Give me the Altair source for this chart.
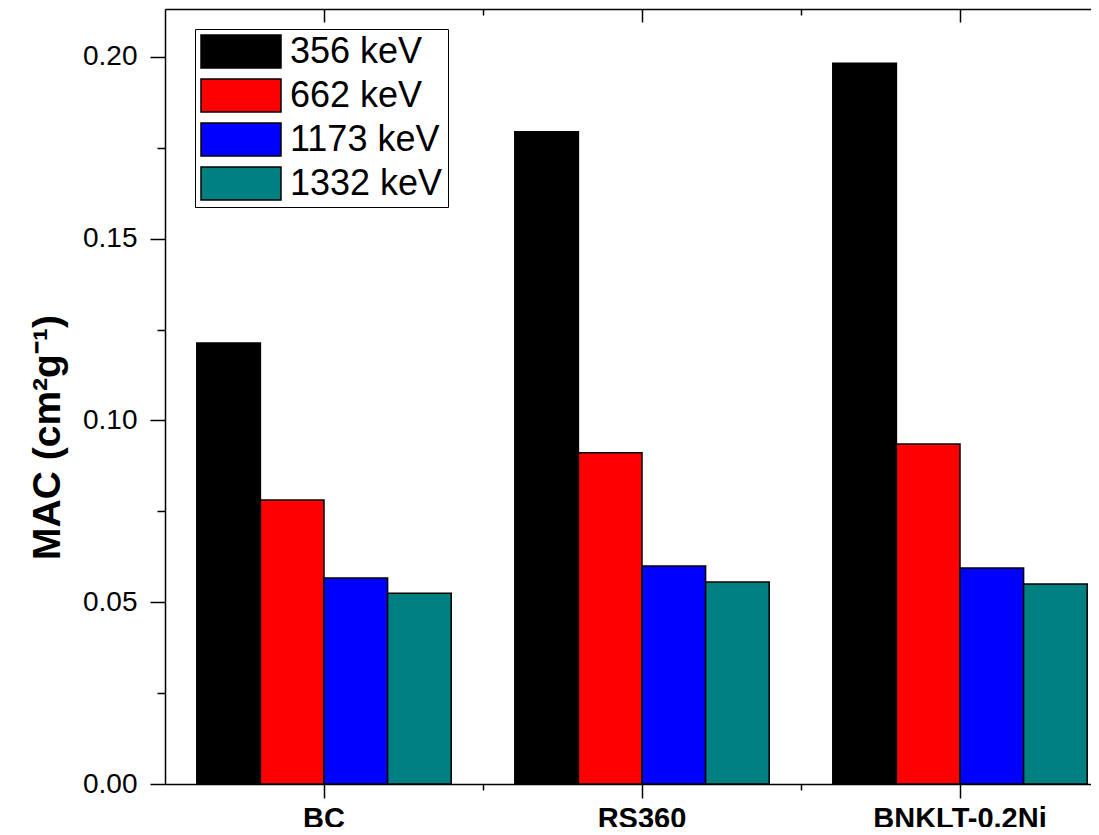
import altair as alt
import pandas as pd

materials = ["BC", "RS360", "BNKLT-0.2Ni"]
energies = ["356 keV", "662 keV", "1173 keV", "1332 keV"]
mac_356 = [0.1213, 0.1794, 0.1983]
mac_662 = [0.0781, 0.0911, 0.0935]
mac_1173 = [0.0567, 0.0600, 0.0594]
mac_1332 = [0.0525, 0.0556, 0.0550]
colors = ["#000000", "#FF0000", "#0000FF", "#008080"]
y_major = [0.0, 0.05, 0.10, 0.15, 0.20]
y_minor = [0.025, 0.075, 0.125, 0.175]

rows = []
for e, vals in zip(energies, [mac_356, mac_662, mac_1173, mac_1332]):
    for m, v in zip(materials, vals):
        rows.append({"material": m, "energy": e, "mac": v})
df = pd.DataFrame(rows)

FONT = "Liberation Sans"
PLOT_W = 934
PLOT_H = 775
RANGE_W = 954
STEP = RANGE_W / len(materials)
x_scale = alt.Scale(domain=materials, range=[0, RANGE_W], paddingInner=0.2, paddingOuter=0.1)
y_scale = alt.Scale(domain=[0, 0.2132], nice=False, zero=True)
xo_scale = alt.Scale(domain=energies, paddingInner=0, paddingOuter=0)

AX = dict(tickColor="black", tickWidth=1.5, domainColor="black", domainWidth=1.5, grid=False)

bars = alt.Chart(df).mark_bar(stroke="black", strokeWidth=1.5, opacity=1).encode(
    x=alt.X("material:N", scale=x_scale, sort=materials,
            axis=alt.Axis(orient="bottom", title=None, labelFont=FONT, labelFontSize=29,
                          labelFontWeight="bold", labelColor="black", labelAngle=0,
                          labelPadding=6, tickSize=14, **AX)),
    xOffset=alt.XOffset("energy:N", scale=xo_scale, sort=energies),
    y=alt.Y("mac:Q", scale=y_scale,
            axis=alt.Axis(orient="left", values=y_major, format=".2f", tickSize=15,
                          labelFont=FONT, labelFontSize=28, labelColor="black", labelPadding=13,
                          title="MAC (cm²g⁻¹)", titleFont=FONT, titleFontSize=39,
                          titleFontWeight="bold", titleColor="black", titleAngle=-90,
                          titleAlign="center", titleBaseline="middle",
                          titleX=-118, titleY=428, **AX)),
    color=alt.Color("energy:N", scale=alt.Scale(domain=energies, range=colors), sort=energies,
                    legend=alt.Legend(title=None, orient="none", legendX=30, legendY=20,
                                      symbolType="M-1,-0.4125L1,-0.4125L1,0.4125L-1,0.4125Z",
                                      symbolSize=6400, symbolStrokeColor="black",
                                      symbolStrokeWidth=1.5, symbolOpacity=1,
                                      clipHeight=35,
                                      labelFont=FONT, labelFontSize=36, labelColor="black",
                                      labelOffset=8, labelLimit=400, rowPadding=7,
                                      padding=5, strokeColor="black", fillColor="white")),
)

ghost = alt.Chart(df).mark_point(opacity=0)

minor = ghost.encode(
    x=alt.X("material:N", scale=x_scale, sort=materials,
            axis=alt.Axis(orient="bottom", title=None, labels=False, domain=False,
                          tickOffset=STEP / 2, tickSize=6, tickColor="black", tickWidth=1.5, grid=False)),
    y=alt.Y("mac:Q", scale=y_scale,
            axis=alt.Axis(orient="left", values=y_minor, title=None, labels=False, domain=False,
                          tickSize=8, tickColor="black", tickWidth=1.5, grid=False)),
)

top_major = ghost.encode(
    x=alt.X("material:N", scale=x_scale, sort=materials,
            axis=alt.Axis(orient="top", title=None, labels=False, domain=False, offset=-13,
                          tickSize=13, tickColor="black", tickWidth=1.5, grid=False)),
    y=alt.Y("mac:Q", scale=y_scale, axis=None),
)

top_minor = ghost.encode(
    x=alt.X("material:N", scale=x_scale, sort=materials,
            axis=alt.Axis(orient="top", title=None, labels=False, domain=False, offset=-6,
                          tickOffset=STEP / 2, tickSize=6, tickColor="black", tickWidth=1.5, grid=False)),
    y=alt.Y("mac:Q", scale=y_scale, axis=None),
)

top_border = ghost.encode(
    x=alt.X("material:N", scale=x_scale, sort=materials,
            axis=alt.Axis(orient="top", title=None, labels=False, ticks=False, domain=True,
                          domainColor="black", domainWidth=1.5, grid=False)),
    y=alt.Y("mac:Q", scale=y_scale, axis=None),
)

chart = alt.layer(bars, minor, top_major, top_minor, top_border).resolve_axis(
    x="independent", y="independent"
).properties(
    width=PLOT_W, height=PLOT_H,
    autosize=alt.AutoSizeParams(type="none"),
    padding={"left": 157, "top": 1, "right": 0, "bottom": 43},
).configure_view(stroke=None).configure(background="white")

chart.save("out.html", embed_options={"renderer": "svg", "actions": False,
                                      "defaultStyle": ".vega-embed svg{flex-shrink:0;display:block;}"})
